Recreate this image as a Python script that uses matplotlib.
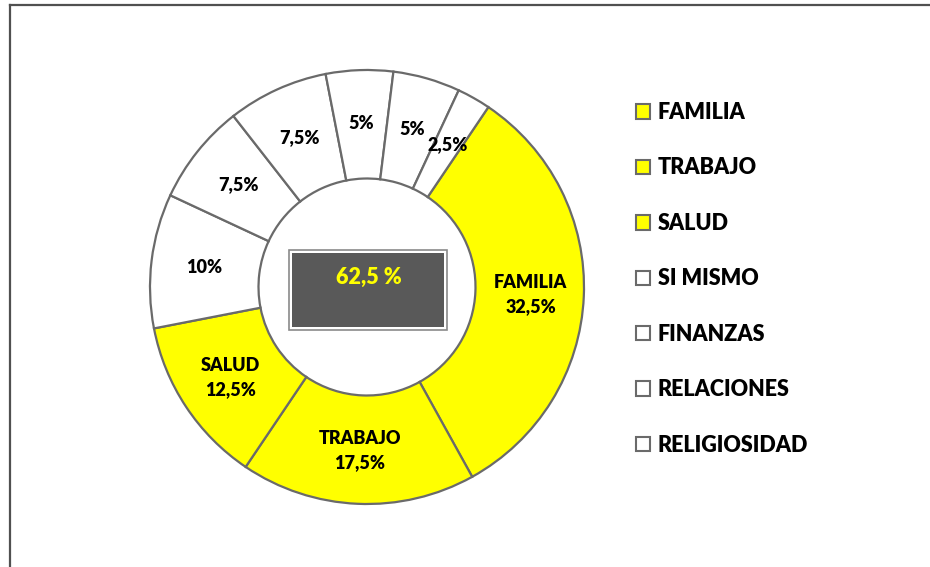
import matplotlib.pyplot as plt
from matplotlib.patches import Rectangle, Patch
from matplotlib.lines import Line2D

# slice data (clockwise from the FAMILIA boundary)
categories = ['FAMILIA', 'TRABAJO', 'SALUD', 'SI MISMO', 'FINANZAS',
              'RELACIONES', 'RELIGIOSIDAD', '', '']
values = [32.5, 17.5, 12.5, 10, 7.5, 7.5, 5, 5, 2.5]
highlighted = [True, True, True, False, False, False, False, False, False]
legend_names = ['FAMILIA', 'TRABAJO', 'SALUD', 'SI MISMO', 'FINANZAS',
                'RELACIONES', 'RELIGIOSIDAD']
center_text = '62,5 %'

YELLOW = '#FFFF00'
EDGE = '#6a6a6a'

plt.rcParams['font.family'] = ['Lato', 'DejaVu Sans']
plt.rcParams['font.weight'] = 'bold'

W, H = 930, 567
fig = plt.figure(figsize=(W / 100, H / 100), dpi=100)

# donut: centre (367, 287) px, radius 217 px
cx, cy, r = 367, 287, 217
ax = fig.add_axes([(cx - r) / W, (H - cy - r) / H, 2 * r / W, 2 * r / H])

colors = [YELLOW if h else 'white' for h in highlighted]


def fmt_label(name, v):
    s = ('%g' % v).replace('.', ',') + '%'
    return name + '\n' + s if name in ('FAMILIA', 'TRABAJO', 'SALUD') else s


wedges, texts = ax.pie(values, colors=colors, startangle=56, counterclock=False,
                       radius=1, wedgeprops=dict(width=0.5, edgecolor=EDGE, linewidth=1.6),
                       labels=[fmt_label(c, v) for c, v in zip(categories, values)],
                       labeldistance=0.755)
ax.set_xlim(-1, 1)
ax.set_ylim(-1, 1)
ax.set_aspect('equal')
ax.axis('off')
for t in texts:
    t.set_ha('center')
    t.set_va('center')
    t.set_fontsize(13)
    t.set_fontweight('heavy')
    t.set_linespacing(1.5)

# centre box
ax.add_patch(Rectangle((-0.36, -0.2), 0.73, 0.37, facecolor='white',
                       edgecolor='#8a8a8a', linewidth=1.2, zorder=3))
ax.add_patch(Rectangle((-0.345, -0.185), 0.70, 0.34, facecolor='#595959',
                       edgecolor='none', zorder=4))
ax.text(0.01, 0.045, center_text, color=YELLOW, fontsize=15.5, fontweight='heavy',
        ha='center', va='center', zorder=5)

# legend
handles = [Patch(facecolor=colors[i], edgecolor=EDGE, linewidth=1.5)
           for i in range(len(legend_names))]
fig.legend(handles, legend_names, loc='upper left',
           bbox_to_anchor=(636 / W, 1 - 102 / H), frameon=False,
           prop=dict(size=15.5, weight='heavy'), handlelength=0.65, handleheight=0.65,
           handletextpad=0.35, labelspacing=1.6, borderpad=0, borderaxespad=0)

# outer frame (top and left edges visible)
fig.add_artist(Line2D([10 / W, 10 / W], [0, 1 - 5 / H], color='#505050', linewidth=1.6))
fig.add_artist(Line2D([10 / W, 1], [1 - 5 / H, 1 - 5 / H], color='#505050', linewidth=1.6))

fig.savefig('out.png', dpi=100)
